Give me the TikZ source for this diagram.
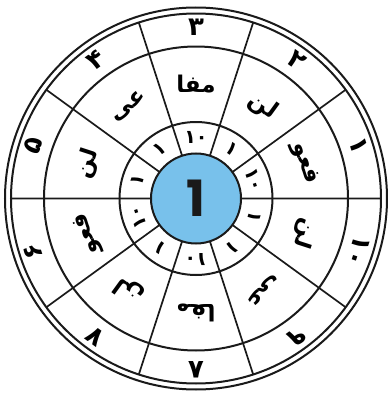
\documentclass[tikz,border=0pt]{standalone}
\usepackage{fontspec}
\usepackage{tikz}
\newfontfamily\arabicfont[Script=Arabic]{DejaVu Sans}
\newfontfamily\hubfont{Poppins}
\TeXXeTstate=1
\definecolor{wline}{HTML}{1A1A1A}
\definecolor{wblue}{HTML}{78C1EB}
\tikzset{
  ring/.style={draw=wline, line width=2pt},
  spoke/.style={draw=wline, line width=1.7pt},
  hub/.style={circle, draw=wline, fill=wblue, line width=2pt, minimum size=90pt,
              inner sep=0pt, font=\hubfont\bfseries\fontsize{50}{50}\selectfont, text=wline},
  numlbl/.style={font=\arabicfont\bfseries\fontsize{26}{26}\selectfont, inner sep=0pt},
  footlbl/.style={font=\arabicfont\bfseries\fontsize{23}{23}\selectfont, inner sep=0pt},
  marklbl/.style={font=\arabicfont\bfseries\fontsize{19}{19}\selectfont, inner sep=0pt},
}

\begin{document}
\begin{tikzpicture}[x=1pt, y=1pt]
  \useasboundingbox (-196,-198.5) rectangle (192,198.5);
  \draw[ring] (0,0) circle (191) (0,0) circle (185) (0,0) circle (152) (0,0) circle (76.5);
  \draw[spoke] (0:45) -- (0:185) (36:45) -- (36:185) (72:45) -- (72:185)
    (108:45) -- (108:185) (144:45) -- (144:185) (180:45) -- (180:185)
    (216:45) -- (216:185) (252:45) -- (252:185) (288:45) -- (288:185) (324:45) -- (324:185);
  \node[hub] (hub) at (0,0) {1};

  % outer ring: numbers
  \node[numlbl, rotate=-72] (n1) at (18:171) {۱};
  \node[numlbl, rotate=-36] (n2) at (54:171) {۲};
  \node[numlbl] (n3) at (90:171) {۳};
  \node[numlbl, rotate=36] (n4) at (126:171) {۴};
  \node[numlbl, rotate=72] (n5) at (162:171) {۵};
  \node[numlbl, rotate=108] (n6) at (198:171) {۶};
  \node[numlbl, rotate=144] (n7) at (234:171) {۷};
  \node[numlbl, rotate=180] (n8) at (270:171) {۸};
  \node[numlbl, rotate=216] (n9) at (306:171) {۹};
  \node[numlbl, rotate=252] (n10) at (342:171) {۱۰};

  % middle ring: feet
  \node[footlbl, rotate=-72] (f1) at (18:114) {\beginR فعو\endR};
  \node[footlbl, rotate=-36] (f2) at (54:114) {\beginR لن\endR};
  \node[footlbl] (f3) at (90:114) {\beginR مفا\endR};
  \node[footlbl, rotate=36] (f4) at (126:114) {\beginR عی\endR};
  \node[footlbl, rotate=72] (f5) at (162:114) {\beginR لن\endR};
  \node[footlbl, rotate=108] (f6) at (198:114) {\beginR فعو\endR};
  \node[footlbl, rotate=144] (f7) at (234:114) {\beginR لن\endR};
  \node[footlbl, rotate=180] (f8) at (270:114) {\beginR مفا\endR};
  \node[footlbl, rotate=216] (f9) at (306:114) {\beginR عی\endR};
  \node[footlbl, rotate=252] (f10) at (342:114) {\beginR لن\endR};

  % inner ring: marks
  \node[marklbl, rotate=-72] (m1) at (18:61) {۱۰};
  \node[marklbl, rotate=-36] (m2) at (54:61) {۱};
  \node[marklbl] (m3) at (90:61) {۱۰};
  \node[marklbl, rotate=36] (m4) at (126:61) {۱};
  \node[marklbl, rotate=72] (m5) at (162:61) {۱};
  \node[marklbl, rotate=108] (m6) at (198:61) {۱۰};
  \node[marklbl, rotate=144] (m7) at (234:61) {۱};
  \node[marklbl, rotate=180] (m8) at (270:61) {۱۰};
  \node[marklbl, rotate=216] (m9) at (306:61) {۱};
  \node[marklbl, rotate=252] (m10) at (342:61) {۱};
\end{tikzpicture}
\end{document}
